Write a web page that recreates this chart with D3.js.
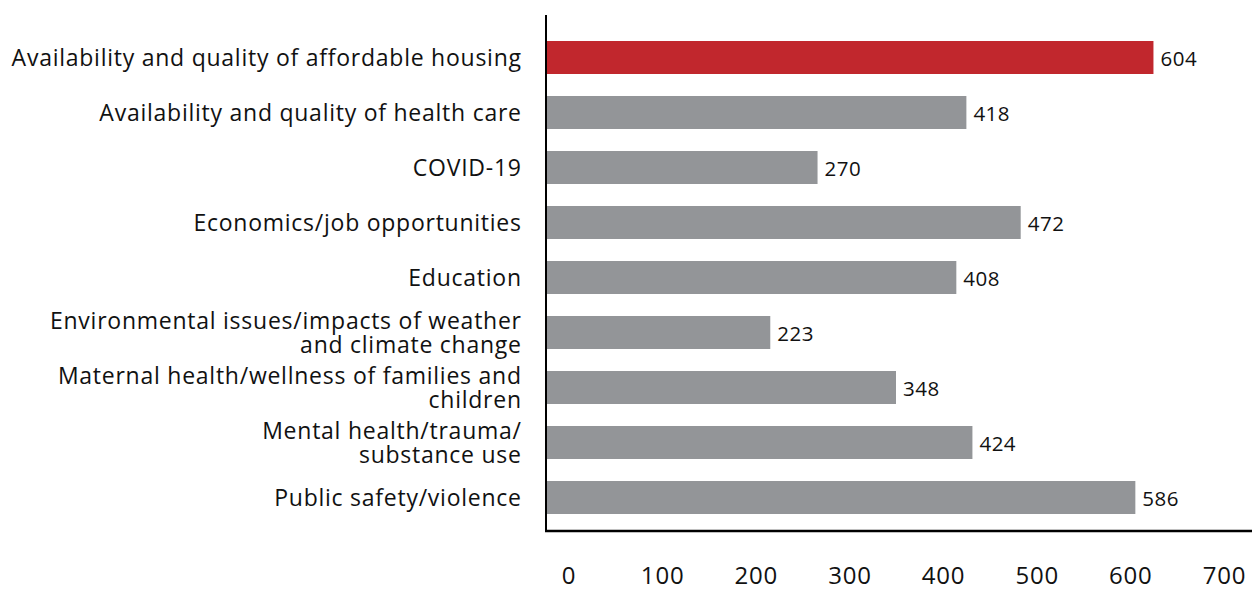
<!DOCTYPE html>
<html>
<head>
<meta charset="utf-8">
<script src="https://cdn.jsdelivr.net/npm/d3@7"></script>
<style>
  html, body { margin: 0; padding: 0; background: #fff; }
  svg { display: block; }
  text { font-family: "Open Sans", "Noto Sans", sans-serif; fill: #111; }
</style>
</head>
<body>
<svg id="chart" width="1252" height="589"></svg>
<script>
// Community concerns, number of responses
const categories = [
  ["Availability and quality of affordable housing"],
  ["Availability and quality of health care"],
  ["COVID-19"],
  ["Economics/job opportunities"],
  ["Education"],
  ["Environmental issues/impacts of weather", "and climate change"],
  ["Maternal health/wellness of families and", "children"],
  ["Mental health/trauma/", "substance use"],
  ["Public safety/violence"]
];
const values = [604, 418, 270, 472, 408, 223, 348, 424, 586];
const highlighted = [true, false, false, false, false, false, false, false, false];
const tickValues = [0, 100, 200, 300, 400, 500, 600, 700];

const svg = d3.select("#chart");
const axisX = 546, axisTop = 15, axisBottom = 531;

const x = d3.scaleLinear().domain([0, 700]).range([axisX, 1250]);
const y = d3.scaleBand().domain(d3.range(values.length)).range([30, 525]).paddingInner(0.4).paddingOuter(0.2);

// bars
svg.append("g").selectAll("rect")
  .data(values)
  .join("rect")
  .attr("x", x(0))
  .attr("y", (d, i) => y(i))
  .attr("width", d => x(d) - x(0))
  .attr("height", y.bandwidth())
  .attr("fill", (d, i) => highlighted[i] ? "#c1272d" : "#939598");

// value labels
svg.append("g").selectAll("text")
  .data(values)
  .join("text")
  .attr("x", d => x(d) + 7)
  .attr("y", (d, i) => y(i) + y.bandwidth() / 2 + 1.5)
  .attr("dy", "0.36em")
  .attr("font-size", 20.5)
  .attr("letter-spacing", "0.5px")
  .text(d => d);

// category labels (multi-line where needed)
const lineEm = 1.02;
const cat = svg.append("g").selectAll("text")
  .data(categories)
  .join("text")
  .attr("text-anchor", "end")
  .attr("font-size", 23)
  .attr("letter-spacing", "0.75px")
  .attr("y", (d, i) => y(i) + y.bandwidth() / 2);
cat.selectAll("tspan")
  .data(d => d.map((t, k) => ({ t, k, n: d.length })))
  .join("tspan")
  .attr("x", 521.75)
  .attr("dy", d => d.k === 0 ? (0.36 - (d.n - 1) * lineEm / 2) + "em" : lineEm + "em")
  .text(d => d.t);

// axis lines
svg.append("line")
  .attr("x1", axisX).attr("x2", axisX)
  .attr("y1", axisTop).attr("y2", axisBottom + 1)
  .attr("stroke", "#000").attr("stroke-width", 2);
svg.append("line")
  .attr("x1", axisX - 1).attr("x2", 1252)
  .attr("y1", axisBottom).attr("y2", axisBottom)
  .attr("stroke", "#000").attr("stroke-width", 2.5);

// tick labels along the bottom
const tickPos = d3.scaleLinear().domain([0, 700]).range([568.5, 1224]);
const axis = d3.axisBottom(tickPos).tickValues(tickValues).tickSize(0).tickPadding(0);
const ag = svg.append("g").attr("transform", "translate(0,567)").call(axis);
ag.select(".domain").remove();
ag.selectAll("text")
  .attr("font-size", 24)
  .attr("letter-spacing", "0.8px")
  .attr("font-family", "'Open Sans', 'Noto Sans', sans-serif")
  .attr("fill", "#111");
</script>
</body>
</html>
